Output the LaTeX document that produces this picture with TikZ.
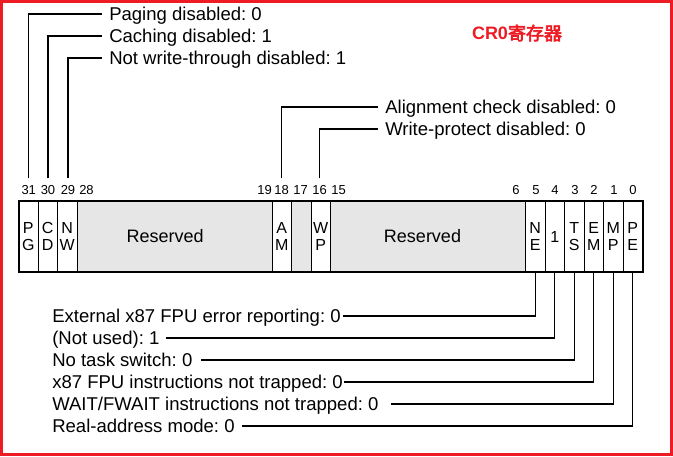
\documentclass[tikz,border=0pt]{standalone}
\usepackage{fontspec}
\setmainfont{Liberation Sans}
\newfontfamily\cjkbold{Noto Sans CJK SC}[FakeBold=3.5]
\definecolor{framered}{RGB}{237,28,36}
\definecolor{resgray}{RGB}{230,230,230}
\frenchspacing

\begin{document}
\begin{tikzpicture}[x=0.75pt, y=-0.75pt,
    cell/.style={draw, line width=0.75pt, minimum width=14.625pt, minimum height=53.25pt,
      inner sep=0pt, outer sep=0pt, align=center, font=\fontsize{12}{12.75}\selectfont},
    wide/.style={cell, fill=resgray, minimum width=146.25pt, font=\fontsize{13.5}{16}\selectfont},
    bitno/.style={inner xsep=0pt, inner ysep=5pt, font=\fontsize{9.75}{11}\selectfont},
    flag/.style={anchor=west, inner xsep=5.25pt, inner ysep=0pt, text height=10pt,
      text depth=0pt, font=\fontsize{13.9}{16}\selectfont},
    lead/.style={line width=0.9pt}]
    \useasboundingbox (0,0) rectangle (673,456);
    \draw[framered, line width=2pt] (1.3,1.3) rectangle (671.3,454.5);
    \node[text=framered, font=\fontsize{13.5}{16}\selectfont] (title) at (517,33) {\textbf{CR0}{\cjkbold 寄存器}};

    \node[cell] (pg) at (28.25,236.5) {P\\G};
    \node[cell] (cd) at (47.75,236.5) {C\\D};
    \node[cell] (nw) at (67.25,236.5) {N\\W};
    \node[wide] (res1) at (174.5,236.5) {Reserved\hspace*{14pt}};
    \node[cell] (am) at (281.75,236.5) {A\\M};
    \node[cell, fill=resgray] (b17) at (301.25,236.5) {};
    \node[cell] (wp) at (320.75,236.5) {W\\P};
    \node[wide] (res2) at (428,236.5) {Reserved\hspace*{8.25pt}};
    \node[cell] (ne) at (535.25,236.5) {N\\E};
    \node[cell] (one) at (554.75,236.5) {1};
    \node[cell] (ts) at (574.25,236.5) {T\\S};
    \node[cell] (em) at (593.75,236.5) {E\\M};
    \node[cell] (mp) at (613.25,236.5) {M\\P};
    \node[cell] (pe) at (632.75,236.5) {P\\E};
    \draw[line width=1.5pt] (pg.north west) rectangle (pe.south east);

    \node[bitno] (n31) at (28.75,190) {31};
    \node[bitno] (n30) at (48,190) {30};
    \node[bitno] (n29) at (68,190) {29};
    \node[bitno] (n28) at (86.5,190) {28};
    \node[bitno] (n19) at (264.5,190) {19};
    \node[bitno] (n18) at (281.5,190) {18};
    \node[bitno] (n17) at (300.5,190) {17};
    \node[bitno] (n16) at (319.5,190) {16};
    \node[bitno] (n15) at (338.5,190) {15};
    \node[bitno] (n6) at (516,190) {6};
    \node[bitno] (n5) at (536,190) {5};
    \node[bitno] (n4) at (555,190) {4};
    \node[bitno] (n3) at (575,190) {3};
    \node[bitno] (n2) at (594,190) {2};
    \node[bitno] (n1) at (614,190) {1};
    \node[bitno] (n0) at (633,190) {0};

    \node[flag] (lpg) at (102,14) {Paging disabled: 0};
    \node[flag] (lcd) at (102,36) {Caching disabled: 1};
    \node[flag] (lnw) at (102,58) {Not write-through disabled: 1};
    \node[flag] (lam) at (378,107) {Alignment check disabled: 0};
    \node[flag] (lwp) at (378,129) {Write-protect disabled: 0};
    \draw[lead] (n31.north) |- (lpg);
    \draw[lead] (n30.north) |- (lcd);
    \draw[lead] (n29.north) |- (lnw);
    \draw[lead] (n18.north) |- (lam);
    \draw[lead] (n16.north) |- (lwp);

    \node[flag] (lne) at (45,316) {External x87 FPU error reporting: 0};
    \node[flag] (lone) at (45,338) {(Not used): 1};
    \node[flag] (lts) at (45,360) {No task switch: 0};
    \node[flag] (lem) at (45,382) {x87 FPU instructions not trapped: 0};
    \node[flag] (lmp) at (45,404) {WAIT/FWAIT instructions not trapped: 0};
    \node[flag] (lpe) at (45,426) {Real-address mode: 0};
    \draw[lead] (ne.south) |- ([xshift=-3.75pt]lne.east);
    \draw[lead] (one.south) |- ([xshift=-0.75pt]lone.east);
    \draw[lead] (ts.south) |- ([xshift=0.75pt]lts.east);
    \draw[lead] (em.south) |- ([xshift=-4.5pt]lem.east);
    \draw[lead] (mp.south) |- ([xshift=3.75pt]lmp.east);
    \draw[lead] (pe.south) |- (lpe.east);
\end{tikzpicture}
\end{document}
